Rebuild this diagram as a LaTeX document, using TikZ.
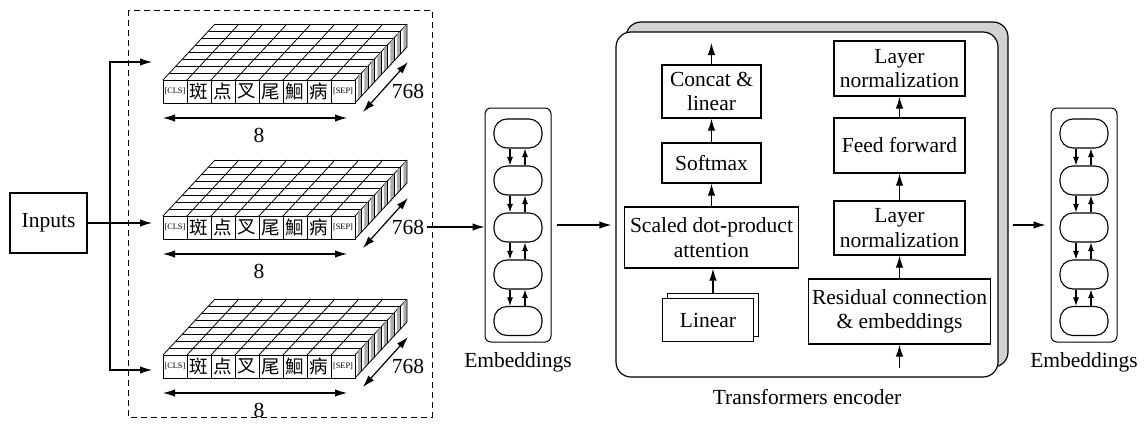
\documentclass[tikz,border=0pt]{standalone}
\usepackage{fontspec}
\setmainfont{Liberation Serif}
\newfontfamily\cjk{Noto Sans CJK SC}
\usetikzlibrary{arrows.meta}

\tikzset{
  block/.style={draw, line width=1.2pt, fill=white, inner sep=0pt, align=center},
  cell/.style={draw, line width=1.1pt, rounded corners=13pt, minimum width=48pt, minimum height=29pt, inner sep=0pt},
  embbox/.style={draw, line width=1pt, rounded corners=6pt, minimum width=66pt, minimum height=234pt, inner sep=0pt},
  tok/.style={font=\fontsize{8.3}{9}\selectfont, inner sep=0pt},
  han/.style={font=\cjk\fontsize{18.5}{18.5}\selectfont, inner sep=0pt},
  smallarr/.style={-{Latex[length=8.5pt,width=6pt]}, line width=1.1pt},
  grid/.style={line width=0.8pt},
}

% one token slab, origin at the top left corner of its front face
\newcommand{\tokenslab}[1]{%
  % top face
  \fill[white] (0,0) -- (192,0) -- (244,-56) -- (52,-56) -- cycle;
  \foreach \row in {0,...,8} \draw[grid] (6.5*\row,-7*\row) -- (192+6.5*\row,-7*\row);
  \foreach \col in {0,...,8} \draw[grid] (24*\col,0) -- (24*\col+52,-56);
  % side face
  \foreach \row in {0,...,7} {
    \fill[gray!65] (194.9+6.5*\row,-3.1-7*\row) -- (198.5+6.5*\row,-7-7*\row)
      -- (198.5+6.5*\row,16-7*\row) -- (194.9+6.5*\row,19.9-7*\row) -- cycle;
    \draw[grid] (192+6.5*\row,-7*\row) -- ++(0,23);
  }
  \draw[grid] (192,23) -- (244,-33) -- (244,-56);
  % front face
  \draw[grid, fill=white] (0,0) rectangle (192,23);
  \foreach \col in {1,...,7} \draw[grid] (24*\col,0) -- ++(0,23);
  \node[tok] (#1-cls) at (12,11.5) {[CLS]};
  \node[han] (#1-ban) at (36,11.5) {斑};
  \node[han] (#1-dian) at (60,11.5) {点};
  \node[han] (#1-cha) at (84,11.5) {叉};
  \node[han] (#1-wei) at (108,11.5) {尾};
  \node[han] (#1-hui) at (132,11.5) {鮰};
  \node[han] (#1-bing) at (156,11.5) {病};
  \node[tok] (#1-sep) at (180,11.5) {[SEP]};
  % sizes
  \draw[<->] (200,32) -- (245,-18);
  \node[inner sep=2pt] (#1-dim) at (245,11) {768};
  \draw[<->] (0,38) -- (184,38);
  \node (#1-len) at (96,55) {8};
}

% one column of embeddings
\newcommand{\embcolumn}[2]{%
  \node[embbox] (#1) at (#2,225) {};
  \node[cell] (#1-1) at (#2,133.5) {};
  \node[cell] (#1-2) at (#2,180.5) {};
  \node[cell] (#1-3) at (#2,227.5) {};
  \node[cell] (#1-4) at (#2,274.5) {};
  \node[cell] (#1-5) at (#2,321) {};
  \foreach \ka/\kb in {1/2,2/3,3/4,4/5} {
    \draw[smallarr] ([xshift=-8pt]#1-\ka.south) -- ([xshift=-8pt]#1-\kb.north);
    \draw[smallarr] ([xshift=7pt]#1-\kb.north) -- ([xshift=7pt]#1-\ka.south);
  }
}

\begin{document}
\begin{tikzpicture}[x=1pt, y=-1pt, line width=1.2pt, >={Latex[length=12pt,width=7.5pt]},
    every node/.style={font=\fontsize{21.5}{24.5}\selectfont}]

  \useasboundingbox (0,0) rectangle (1144,424);

  %%%%%%%%%%%%%%%%%%%%%%%%%%%%%%
  % Inputs and the three slabs %
  %%%%%%%%%%%%%%%%%%%%%%%%%%%%%%
  \node[block, minimum width=77pt, minimum height=60pt] (inputs) at (48.5,223) {Inputs};
  \coordinate (split) at (110,223);
  \coordinate (in1) at (152,62);
  \coordinate (in2) at (152,223);
  \coordinate (in3) at (152,370);
  \draw[->] (inputs.east) -- (in2);
  \draw[->] (split) |- (in1);
  \draw[->] (split) |- (in3);

  \draw[dash pattern=on 6pt off 4pt, line width=1pt] (128,10) rectangle (432,417);

  \begin{scope}[shift={(163,80)}]
    \tokenslab{a}
  \end{scope}
  \begin{scope}[shift={(163,216)}]
    \tokenslab{b}
  \end{scope}
  \begin{scope}[shift={(163,355)}]
    \tokenslab{c}
  \end{scope}

  %%%%%%%%%%%%%%%%%%%%%%%%%%%%%%
  % Embeddings before/after    %
  %%%%%%%%%%%%%%%%%%%%%%%%%%%%%%
  \embcolumn{embA}{518}
  \node (embAlbl) at (518,362) {Embeddings};
  \embcolumn{embB}{1084}
  \node (embBlbl) at (1084,362) {Embeddings};

  %%%%%%%%%%%%%%%%%%%%%%%%%%%%%%
  % Transformers encoder       %
  %%%%%%%%%%%%%%%%%%%%%%%%%%%%%%
  \node[draw, fill=gray!35, rounded corners=15pt, minimum width=382pt, minimum height=345pt] (tfback) at (817,194.5) {};
  \node[draw, fill=white, rounded corners=15pt, minimum width=382pt, minimum height=345pt] (tf) at (807,204.5) {};
  \node (tflbl) at (807,397) {Transformers encoder};

  % Attention column
  \node[block, minimum width=99pt, minimum height=53pt] (concat) at (711.5,91.5) {Concat \&\\linear};
  \node[block, minimum width=99pt, minimum height=40pt] (softmax) at (711.5,163) {Softmax};
  \node[block, minimum width=174pt, minimum height=61pt] (scaled) at (711.5,237.5) {Scaled dot-product\\attention};
  \node[block, minimum width=91pt, minimum height=43pt] (linback) at (713,315) {};
  \node[block, minimum width=91pt, minimum height=43pt] (linear) at (708,320) {Linear};
  \coordinate (catout) at (711.5,43);
  \draw[->] (concat.north) -- (catout);
  \draw[->] (softmax.north) -- (concat.south);
  \draw[->] (scaled.north) -- (softmax.south);
  \draw[->] (linback.north) -- (linback.north |- scaled.south);

  % Normalization column
  \node[block, minimum width=131pt, minimum height=55pt] (norm2) at (899.5,68.5) {Layer\\normalization};
  \node[block, minimum width=131pt, minimum height=55pt] (ffwd) at (899.5,145.5) {Feed forward};
  \node[block, minimum width=131pt, minimum height=54pt] (norm1) at (899.5,228) {Layer\\normalization};
  \node[block, minimum width=182pt, minimum height=65pt] (resid) at (899.5,311.5) {Residual connection\\\& embeddings};
  \coordinate (residin) at (899.5,368);
  \draw[->] (residin) -- (resid.south);
  \draw[->] (resid.north) -- (norm1.south);
  \draw[->] (norm1.north) -- (ffwd.south);
  \draw[->] (ffwd.north) -- (norm2.south);

  %%%%%%%%%%%%%%%%%%%%%%%%%%%%%%
  % Main flow                  %
  %%%%%%%%%%%%%%%%%%%%%%%%%%%%%%
  \draw[->] (b-dim.east) -- (b-dim.east -| embA.west);
  \draw[->, shorten <=5pt, shorten >=4pt] (embA.east) -- (embA.east -| tf.west);
  \draw[->, shorten <=4pt, shorten >=5pt] (tfback.east |- embB.west) -- (embB.west);

\end{tikzpicture}
\end{document}
